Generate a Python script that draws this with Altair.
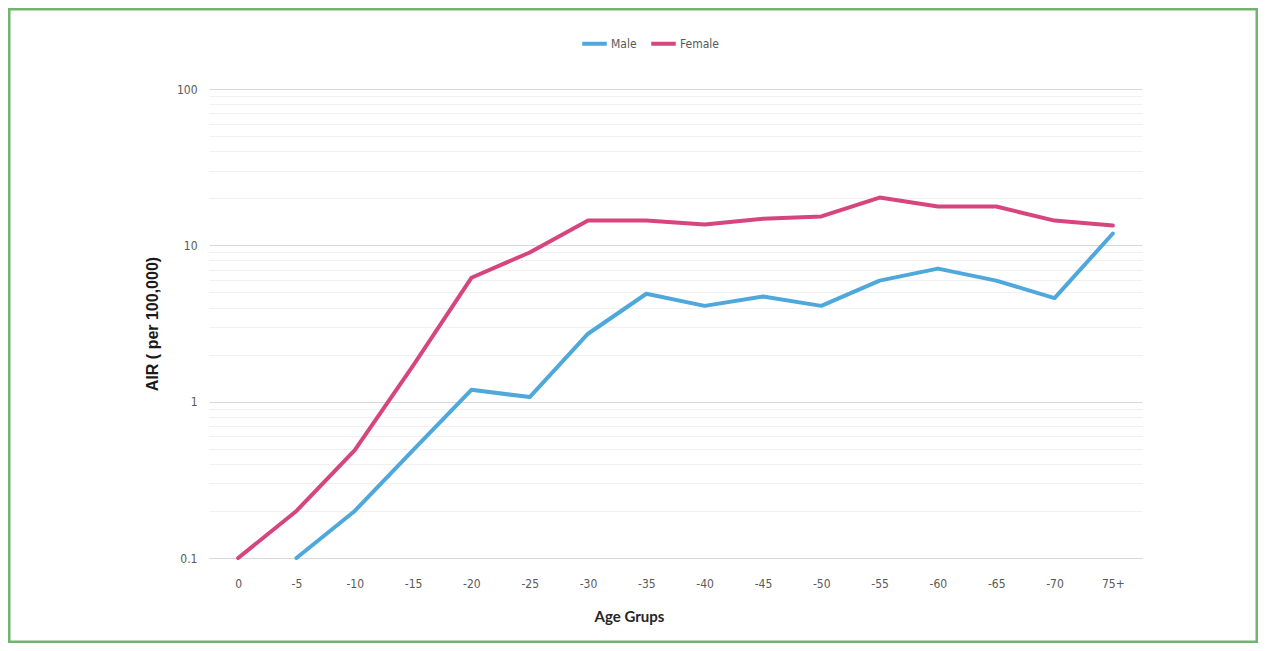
import altair as alt
import pandas as pd

age_groups = ["0", "-5", "-10", "-15", "-20", "-25", "-30", "-35", "-40",
              "-45", "-50", "-55", "-60", "-65", "-70", "75+"]
male = [None, 0.1, 0.2, 0.49, 1.19, 1.07, 2.72, 4.9, 4.1, 4.7, 4.1, 5.95,
        7.1, 5.95, 4.6, 11.9]
female = [0.1, 0.2, 0.49, 1.7, 6.2, 9.0, 14.4, 14.4, 13.6, 14.8, 15.3, 20.2,
          17.7, 17.7, 14.4, 13.4]
series = ["Male", "Female"]
colors = ["#4ea8dc", "#d6457d"]
grid_values = [0.1, 0.2, 0.3, 0.4, 0.5, 0.6, 0.7, 0.8, 0.9,
               1, 2, 3, 4, 5, 6, 7, 8, 9,
               10, 20, 30, 40, 50, 60, 70, 80, 90, 100]

rows = []
for i, a in enumerate(age_groups):
    rows.append({"age": a, "sex": "Male", "air": male[i]})
    rows.append({"age": a, "sex": "Female", "air": female[i]})
df = pd.DataFrame(rows)

W, H = 933, 469
PAD_L, PAD_T = 201, 81
SVG_W, SVG_H = 1250, 635
PAD_R = SVG_W - PAD_L - W
PAD_B = SVG_H - PAD_T - H

label_font = "Liberation Sans Narrow, DejaVu Sans Condensed, sans-serif"
major_test = "indexof([0.1, 1, 10, 100], datum.value) >= 0"

lines = alt.Chart(df).mark_line(strokeWidth=4, strokeCap="round", strokeJoin="round").encode(
    x=alt.X("age:N", sort=age_groups,
            scale=alt.Scale(type="point", padding=0.5),
            axis=alt.Axis(title="Age Grups", labelAngle=0, ticks=False,
                          domain=True, domainColor="#d9d9d9", grid=False,
                          labelFont=label_font, labelFontSize=12,
                          labelColor="#595959", labelPadding=20,
                          titleFont="Lato", titleFontSize=15,
                          titleFontWeight="bold", titleColor="#262626",
                          titlePadding=20, titleX=420, titleAlign="center")),
    y=alt.Y("air:Q",
            scale=alt.Scale(type="log", domain=[0.1, 100], nice=False),
            axis=alt.Axis(title="AIR ( per 100,000)", values=grid_values,
                          ticks=False, domain=False, grid=True,
                          gridColor={"condition": {"test": major_test, "value": "#d9d9d9"},
                                     "value": "#f0f0f0"},
                          gridWidth=1.2,
                          labelExpr=f"{major_test} ? format(datum.value, '~g') : ''",
                          labelOverlap=False,
                          labelFont=label_font, labelFontSize=12,
                          labelColor="#595959", labelPadding=12,
                          titleFont="Liberation Sans", titleFontSize=16,
                          titleFontWeight="bold", titleColor="#1a1a1a",
                          titlePadding=16)),
    color=alt.Color("sex:N", sort=series,
                    scale=alt.Scale(domain=series, range=colors),
                    legend=alt.Legend(title=None, orient="none", direction="horizontal",
                                      legendX=371, legendY=-60,
                                      symbolType="stroke", symbolStrokeWidth=4,
                                      symbolSize=600, labelFont=label_font,
                                      labelFontSize=12, labelColor="#595959",
                                      columnPadding=6, labelOffset=2)),
)

border = alt.Chart(pd.DataFrame({"a": [0]})).mark_rect(
    fill=None, stroke="#72b36f", strokeWidth=3
).encode(
    x=alt.value(-PAD_L + 1), x2=alt.value(W + PAD_R - 1),
    y=alt.value(-PAD_T + 1), y2=alt.value(H + PAD_B - 1),
)

chart = alt.layer(lines, border).properties(
    width=W, height=H,
    autosize=alt.AutoSizeParams(type="none"),
    padding={"left": PAD_L, "top": PAD_T, "right": PAD_R, "bottom": PAD_B},
    background="white",
).configure_view(stroke=None)

chart.save("out.html", embed_options={"renderer": "svg", "actions": False})
